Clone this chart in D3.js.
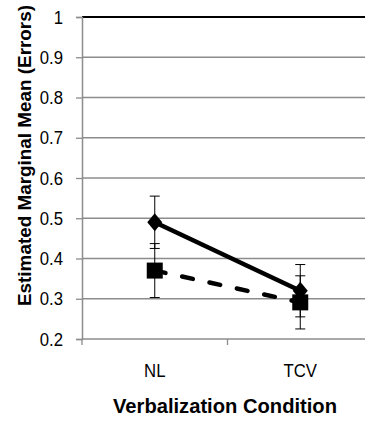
<!DOCTYPE html>
<html>
<head>
<meta charset="utf-8">
<script src="https://cdn.jsdelivr.net/npm/d3@7"></script>
<style>
  body { margin: 0; background: #fff; }
  svg { display: block; }
</style>
</head>
<body>
<div id="chart"></div>
<script>
/**
 * DATA
 * */
const categories = ["NL", "TCV"];
const yTicks = [0.2, 0.3, 0.4, 0.5, 0.6, 0.7, 0.8, 0.9, 1];
// solid line, diamond markers
const diamondMeans = [0.49, 0.32];
const diamondErr = [0.065, 0.065];
// dashed line, square markers
const squareMeans = [0.37, 0.291];
const squareErr = [0.067, 0.066];

const width = 365,
  height = 421,
  margin = { top: 17, right: -8, bottom: 82, left: 82 };

const svg = d3.select("#chart")
  .append("svg")
  .attr("width", width)
  .attr("height", height);

const x = d3.scaleBand()
  .domain(categories)
  .range([margin.left, width - margin.right]);

const y = d3.scaleLinear()
  .domain([0.2, 1])
  .range([height - margin.bottom, margin.top]);

const labelFont = "'Liberation Sans', Arial, sans-serif";
const squeeze = 0.88; // labels in the original are a narrow face

// gridlines
svg.append("g")
  .selectAll("line")
  .data(yTicks.slice(1, -1))
  .join("line")
  .attr("x1", margin.left)
  .attr("x2", width)
  .attr("y1", d => y(d))
  .attr("y2", d => y(d))
  .attr("stroke", "#8c8c8c")
  .attr("stroke-width", 1.3);

// top border line at 1
svg.append("line")
  .attr("x1", margin.left)
  .attr("x2", width)
  .attr("y1", y(1))
  .attr("y2", y(1))
  .attr("stroke", "#000")
  .attr("stroke-width", 2);

// y axis
const yAxis = svg.append("g")
  .attr("transform", `translate(${margin.left},0)`)
  .call(d3.axisLeft(y).tickValues(yTicks).tickSize(6)
    .tickFormat(d => d3.format("")(+d.toFixed(1))));
yAxis.select(".domain").attr("stroke", "#8c8c8c").attr("stroke-width", 1.5);
yAxis.selectAll(".tick line").attr("stroke", "#8c8c8c").attr("stroke-width", 1.3);
yAxis.selectAll(".tick text")
  .attr("x", -19 / squeeze)
  .attr("transform", `scale(${squeeze},1)`)
  .attr("fill", "#000")
  .style("font-family", labelFont)
  .style("font-size", "19px");

// x axis labels
const xAxis = svg.append("g")
  .attr("transform", `translate(0,${y(0.2)})`)
  .call(d3.axisBottom(x).tickSize(0).tickPadding(24.5));
xAxis.select(".domain").remove();
xAxis.selectAll(".tick text")
  .attr("transform", `scale(${squeeze},1)`)
  .attr("fill", "#000")
  .style("font-family", labelFont)
  .style("font-size", "19px");

svg.append("line")
  .attr("x1", margin.left)
  .attr("x2", width)
  .attr("y1", y(0.2))
  .attr("y2", y(0.2))
  .attr("stroke", "#8c8c8c")
  .attr("stroke-width", 1.5);

// category boundary ticks
svg.append("g")
  .selectAll("line")
  .data(categories)
  .join("line")
  .attr("x1", d => x(d))
  .attr("x2", d => x(d))
  .attr("y1", y(0.2))
  .attr("y2", y(0.2) + 6)
  .attr("stroke", "#8c8c8c")
  .attr("stroke-width", 1.3);

const cx = d => x(d) + x.bandwidth() / 2;

// error bars
function errorBars(means, errs) {
  const g = svg.append("g").attr("stroke", "#000").attr("stroke-width", 1);
  categories.forEach((c, i) => {
    const lo = y(means[i] - errs[i]), hi = y(means[i] + errs[i]);
    g.append("line").attr("x1", cx(c)).attr("x2", cx(c)).attr("y1", lo).attr("y2", hi);
    [lo, hi].forEach(v => {
      g.append("line").attr("x1", cx(c) - 5).attr("x2", cx(c) + 5).attr("y1", v).attr("y2", v);
    });
  });
}
errorBars(diamondMeans, diamondErr);
errorBars(squareMeans, squareErr);

const line = d3.line().x(d => cx(d[0])).y(d => y(d[1]));

// dashed line + squares
svg.append("path")
  .datum(categories.map((c, i) => [c, squareMeans[i]]))
  .attr("d", line)
  .attr("fill", "none")
  .attr("stroke", "#000")
  .attr("stroke-width", 4.5)
  .attr("stroke-linecap", "round")
  .attr("stroke-dasharray", "11,17");

svg.append("g")
  .selectAll("rect")
  .data(categories)
  .join("rect")
  .attr("x", d => cx(d) - 8)
  .attr("y", (d, i) => y(squareMeans[i]) - 8)
  .attr("width", 16)
  .attr("height", 16)
  .attr("fill", "#000");

// solid line + diamonds
svg.append("path")
  .datum(categories.map((c, i) => [c, diamondMeans[i]]))
  .attr("d", line)
  .attr("fill", "none")
  .attr("stroke", "#000")
  .attr("stroke-width", 4.5);

svg.append("g")
  .selectAll("path")
  .data(categories)
  .join("path")
  .attr("d", (d, i) => {
    const px = cx(d), py = y(diamondMeans[i]);
    return `M${px},${py - 9}L${px + 7.5},${py}L${px},${py + 9}L${px - 7.5},${py}Z`;
  })
  .attr("fill", "#000");

// axis titles
svg.append("text")
  .attr("transform", "translate(31,155.5) rotate(-90)")
  .attr("text-anchor", "middle")
  .attr("textLength", 301)
  .attr("lengthAdjust", "spacingAndGlyphs")
  .style("font-family", "'Liberation Sans', Arial, sans-serif")
  .style("font-weight", "bold")
  .style("font-size", "19px")
  .text("Estimated Marginal Mean (Errors)");

svg.append("text")
  .attr("x", 225)
  .attr("y", 413)
  .attr("text-anchor", "middle")
  .attr("textLength", 224)
  .attr("lengthAdjust", "spacingAndGlyphs")
  .style("font-family", "'Liberation Sans', Arial, sans-serif")
  .style("font-weight", "bold")
  .style("font-size", "21px")
  .text("Verbalization Condition");
</script>
</body>
</html>
